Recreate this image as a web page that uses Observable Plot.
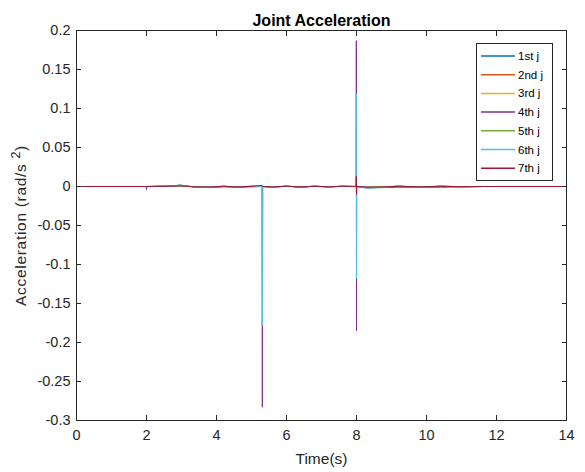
<!DOCTYPE html>
<html>
<head>
<meta charset="utf-8">
<script src="https://cdn.jsdelivr.net/npm/d3@7"></script>
<script src="https://cdn.jsdelivr.net/npm/@observablehq/plot@0.6"></script>
<style>
  body { margin: 0; background: #fff; }
  #wrap { position: relative; width: 585px; height: 472px; font-family: "Liberation Sans", Arial, sans-serif; }
  #legend { position: absolute; left: 476px; top: 43px; }
  #chart svg g[aria-label="x-axis tick label"] text,
  #chart svg g[aria-label="y-axis tick label"] text { font-size: 14.5px !important; }
  #chart svg g[aria-label="x-axis label"] text { font-size: 15.5px !important; }
  #chart svg g[aria-label="y-axis label"] text { font-size: 15.5px !important; letter-spacing: 0.7px; }
</style>
</head>
<body>
<div id="wrap"><div id="chart"></div><svg id="legend" width="77" height="138"></svg></div>
<script>
const seriesNames = ["1st j", "2nd j", "3rd j", "4th j", "5th j", "6th j", "7th j"];
const seriesColors = ["#0072BD", "#D95319", "#EDB120", "#7E2F8E", "#77AC30", "#4DBEEE", "#A2142F"];
const xTicks = [0, 2, 4, 6, 8, 10, 12, 14];
const yTicks = [-0.3, -0.25, -0.2, -0.15, -0.1, -0.05, 0, 0.05, 0.1, 0.15, 0.2];
const yTickLabels = ["-0.3", "-0.25", "-0.2", "-0.15", "-0.1", "-0.05", "0", "0.05", "0.1", "0.15", "0.2"];

const times = [0, 1.99, 2.0, 2.01, 2.5, 2.8, 2.95, 3.1, 3.4, 3.8, 4.2, 4.6, 5.0, 5.3, 5.31, 5.32, 5.6, 6.0, 6.4, 6.8, 7.2, 7.6, 7.99, 7.995, 8.0, 8.005, 8.3, 8.7, 9.2, 9.8, 10.4, 11.0, 11.6, 14];
const j1 = [0, 0, 0, 0, 0.0005, 0.001, 0.002, 0.001, -0.001, -0.0015, -0.0005, -0.001, -0.0005, 0, 0.0005, 0, -0.001, 0.0005, -0.001, 0.0005, -0.0005, 0.0005, 0, 0, 0, 0, -0.002, -0.0015, -0.001, -0.001, -0.001, -0.0005, 0, 0];
const j2 = [0, 0, 0, 0, 0.0003, 0.0006, 0.001, 0.0005, -0.0005, -0.0008, 0.0003, -0.0005, 0.0002, 0, 0.0004, 0, -0.0005, 0.0003, -0.0004, 0.0002, -0.0003, 0.0002, 0, 0.004, -0.003, 0, -0.001, -0.0008, 0.0004, -0.0005, 0.0003, -0.0002, 0, 0];
const j3 = [0, 0, 0, 0, 0.0002, 0.0004, 0.0008, 0.0004, -0.0004, -0.0006, 0.0002, -0.0004, 0.0002, 0, 0.0003, 0, -0.0004, 0.0002, -0.0003, 0.0002, -0.0002, 0.0002, 0, 0.002, -0.002, 0, -0.0008, -0.0006, 0.0003, -0.0004, 0.0002, -0.0002, 0, 0];
const j4 = [0, 0, -0.004, 0, 0.0004, 0.0008, 0.0015, 0.0008, -0.0008, -0.001, 0.0004, -0.0012, 0.0004, 0, -0.283, 0, -0.001, 0.0006, -0.0012, 0.0005, -0.0008, 0.0004, 0, 0.187, -0.185, 0, -0.0015, -0.0012, 0.0005, -0.0012, 0.0005, -0.0005, 0, 0];
const j5 = [0, 0, 0, 0, 0.0002, 0.0003, 0.0006, 0.0003, -0.0003, -0.0005, 0.0002, -0.0003, 0.0001, 0, 0.0003, 0, -0.0003, 0.0002, -0.0003, 0.0002, -0.0002, 0.0001, 0, 0.003, -0.003, 0, -0.0006, -0.0005, 0.0002, -0.0003, 0.0002, -0.0001, 0, 0];
const j6 = [0, 0, 0, 0, 0.0003, 0.0006, 0.0012, 0.0006, -0.0006, -0.0008, 0.0003, -0.0008, 0.0003, 0, -0.179, 0, -0.0008, 0.0004, -0.0008, 0.0004, -0.0005, 0.0003, 0, 0.119, -0.118, 0, -0.0012, -0.001, 0.0004, -0.0008, 0.0004, -0.0004, 0, 0];
const j7 = [0, 0, 0, 0, 0.0002, 0.0004, 0.0008, 0.0004, -0.0004, -0.0006, 0.0002, -0.0005, 0.0002, 0.0015, 0.0003, 0, -0.0004, 0.0002, -0.0004, 0.0002, -0.0003, 0.0002, 0, 0.013, -0.010, 0, -0.0008, -0.0006, 0.0003, -0.0004, 0.0002, -0.0002, 0, 0];
const seriesValues = [j1, j2, j3, j4, j5, j6, j7];

const data = [];
seriesValues.forEach((vals, s) => {
  vals.forEach((v, i) => data.push({t: times[i], v, s: seriesNames[s]}));
});

const font = "'Liberation Sans', Arial, sans-serif";
const chart = Plot.plot({
  width: 585,
  height: 472,
  marginLeft: 76,
  marginRight: 19,
  marginTop: 30,
  marginBottom: 52,
  style: {fontFamily: font, color: "#262626", background: "#fff"},
  x: {domain: [0, 14]},
  y: {domain: [-0.3, 0.2]},
  color: {domain: seriesNames, range: seriesColors},
  marks: [
    Plot.line(data, {x: "t", y: "v", z: "s", stroke: "s", strokeWidth: 1}),
    Plot.frame({stroke: "#262626", strokeWidth: 1}),
    Plot.axisX({anchor: "bottom", ticks: xTicks, tickSize: -5, tickPadding: 14, tickFormat: d => String(d), label: "Time(s)", labelArrow: "none", labelAnchor: "center", labelOffset: 43, stroke: "#262626", fill: "#262626"}),
    Plot.axisX({anchor: "top", ticks: xTicks, tickSize: -5, tickFormat: () => "", label: null, stroke: "#262626"}),
    Plot.axisY({anchor: "left", ticks: yTicks, tickSize: -5, tickPadding: 11, tickFormat: d => yTickLabels[yTicks.findIndex(y => Math.abs(y - d) < 1e-9)], label: "Acceleration (rad/s 2)", labelArrow: "none", labelAnchor: "center", labelOffset: 62, stroke: "#262626", fill: "#262626"}),
    Plot.axisY({anchor: "right", ticks: yTicks, tickSize: -5, tickFormat: () => "", label: null, stroke: "#262626"}),
    Plot.text(["Joint Acceleration"], {frameAnchor: "top", dy: -5, lineAnchor: "bottom", fontWeight: "bold", fontSize: 16, fill: "#000"})
  ]
});
document.getElementById("chart").appendChild(chart);

// superscript the "2" in the y-axis label
const yl = d3.select(chart).select('g[aria-label="y-axis label"] text');
if (!yl.empty()) {
  yl.text(null);
  yl.append("tspan").text("Acceleration (rad/s ");
  yl.append("tspan").attr("dy", "-0.45em").attr("font-size", "0.8em").text("2");
  yl.append("tspan").attr("dy", "0.36em").text(")");
}

const legend = d3.select("#legend");
legend.append("rect").attr("x", 0.5).attr("y", 0.5).attr("width", 76).attr("height", 137).attr("fill", "#fff").attr("stroke", "#262626");
seriesNames.forEach((n, i) => {
  const y = 13 + i * 18.7;
  legend.append("line").attr("x1", 5).attr("x2", 39).attr("y1", y).attr("y2", y)
    .attr("stroke", seriesColors[i]).attr("stroke-width", 1.5);
  legend.append("text").attr("x", 42).attr("y", y).attr("dy", "0.35em")
    .attr("font-family", font).attr("font-size", 11.5).attr("fill", "#000").text(n);
});
</script>
</body>
</html>
